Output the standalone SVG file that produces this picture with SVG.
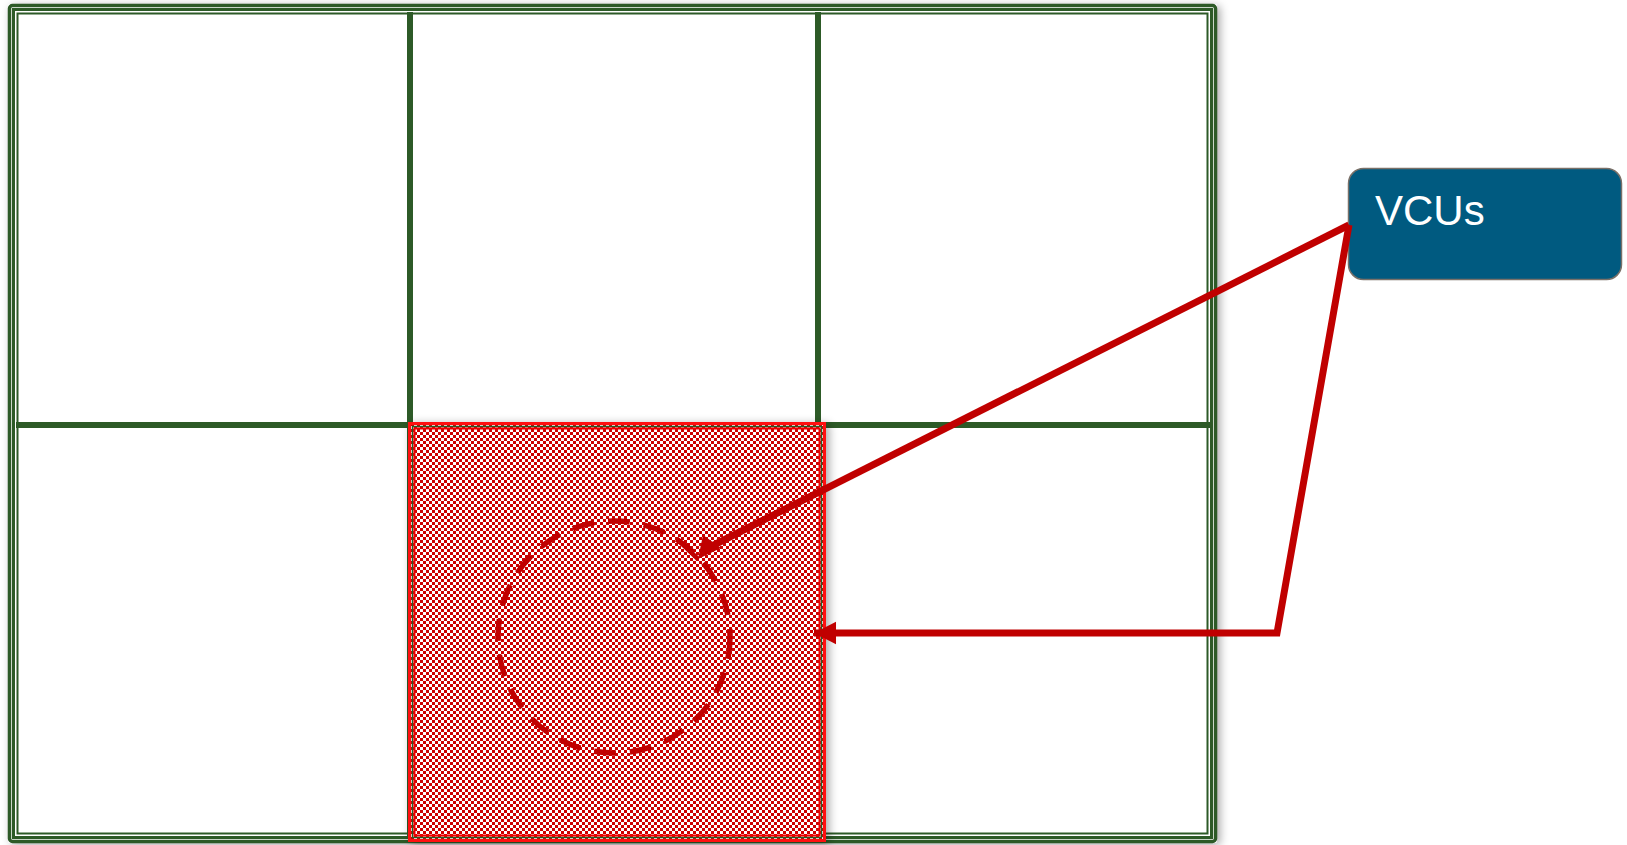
<svg xmlns="http://www.w3.org/2000/svg" width="1627" height="845" viewBox="0 0 1627 845">
<style>
.g{stroke:#2d5a27;fill:none}
.red{stroke:#c00000;fill:none;stroke-width:7}
</style>
<defs>
<pattern id="chk" width="6" height="6" patternUnits="userSpaceOnUse">
<rect width="6" height="6" fill="#fff"/>
<rect width="3" height="3" fill="#cc0000"/>
<rect x="3" y="3" width="3" height="3" fill="#cc0000"/>
</pattern>
<filter id="sh" x="-5%" y="-5%" width="110%" height="110%">
<feGaussianBlur in="SourceAlpha" stdDeviation="5"/>
<feOffset dx="3" dy="2" result="b"/>
<feComponentTransfer><feFuncA type="linear" slope="0.35"/></feComponentTransfer>
<feMerge><feMergeNode/><feMergeNode in="SourceGraphic"/></feMerge>
</filter>
<marker id="tri" markerWidth="4" markerHeight="4" refX="3.2" refY="1.65" orient="auto" markerUnits="strokeWidth">
<path d="M0,0 L3.2,1.65 L0,3.3 Z" fill="#c00000"/>
</marker>
</defs>
<g id="frame">
<rect x="8" y="4" width="1209" height="839" rx="3" fill="#fff" filter="url(#sh)"/>
<rect x="9.5" y="5.5" width="1206" height="836" rx="3" class="g" stroke-width="3.5"/>
<rect x="13.5" y="9.5" width="1198" height="828" class="g" stroke-width="3"/>
<rect x="17.5" y="13.5" width="1190" height="820" class="g" stroke-width="2"/>
</g>
<g id="grid">
<line x1="410" y1="12" x2="410" y2="836" class="g" stroke-width="6"/>
<line x1="818" y1="12" x2="818" y2="836" class="g" stroke-width="6"/>
<line x1="16" y1="425" x2="1210" y2="425" class="g" stroke-width="6"/>
</g>
<g id="highlight">
<rect x="408" y="422" width="418" height="420" fill="url(#chk)" filter="url(#sh)"/>
<rect x="409.5" y="423.5" width="415" height="417" fill="none" stroke="#ff1010" stroke-width="3"/>
<rect x="412.5" y="426.5" width="409" height="411" fill="none" stroke="#2d5a27" stroke-width="1.5"/>
<rect x="414.5" y="428.5" width="405" height="407" fill="none" stroke="#ee0000" stroke-width="2"/>
<ellipse cx="614" cy="637" rx="116" ry="116" fill="none" stroke="#c00000" stroke-width="5.5" stroke-dasharray="22 14"/>
</g>
<g id="vcus">
<rect x="1348.5" y="168.5" width="273" height="111" rx="15" fill="#005a80" stroke="#7a7068" stroke-width="1.5"/>
<text x="1375" y="225" font-family="Liberation Sans, Arial, sans-serif" font-size="42" fill="#fff">VCUs</text>
</g>
<g id="connectors">
<polyline points="1349,225 708,548" class="red"/>
<path d="M698,559 L703,535 L721,548 Z" fill="#c00000"/>
<line x1="698" y1="559" x2="677" y2="539" stroke="#c00000" stroke-width="4.5"/>
<polyline points="1349,225 1277,633 814,633" class="red" marker-end="url(#tri)"/>
</g>
</svg>
